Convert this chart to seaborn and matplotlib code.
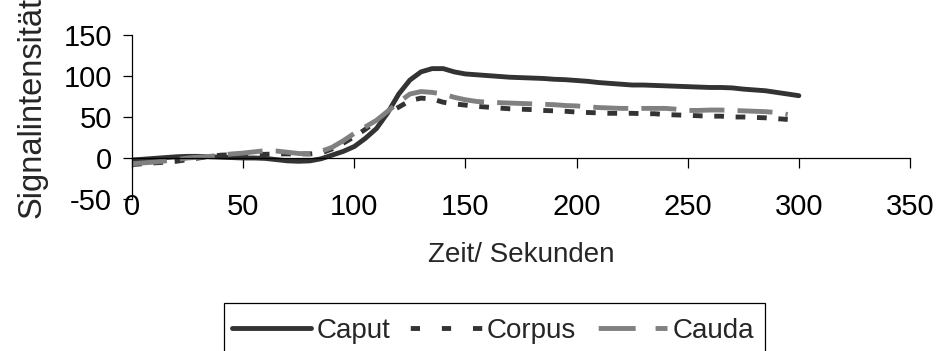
import numpy as np
import pandas as pd
import matplotlib
matplotlib.use("Agg")
import matplotlib.pyplot as plt
from matplotlib.lines import Line2D
from matplotlib.patches import Rectangle
import seaborn as sns

# Signal intensity over time for three regions
time_caput = list(range(0, 301, 5))
caput = [-2.5, -1.5, -0.5, 0.5, 1.5, 2, 2, 1.5, 1, 0.5, 0, 0, -0.5, -2, -3.5, -4, -3.5, -1,
         3.5, 8, 14, 24, 36, 55, 78, 95, 105, 109, 109, 105, 102.5, 101.5, 100.5,
         99.5, 98.5, 98, 97.5, 97, 96, 95.5, 94.5, 93.5, 92, 91, 90, 89, 89, 88.5,
         88, 87.5, 87, 86.5, 86, 86, 85.5, 84, 83, 82, 80, 78, 76]

time_corpus = list(range(0, 296, 5))
corpus = [-8, -7, -6, -5, -4, -2, 0, 2, 3.5, 4, 4, 4.5, 4.5, 5, 5, 5, 5, 6, 11,
          18, 26, 35, 45, 55, 62, 70, 73, 72, 68, 66, 64.5, 63, 62, 61, 60, 59.5,
          59, 58, 57.5, 57, 56, 55.5, 55, 54.5, 54.5, 54.5, 54, 54, 53, 52.5, 52,
          51.5, 51, 51, 50, 50, 49.5, 49, 48, 47]

time_cauda = list(range(0, 296, 5))
cauda = [-7, -6, -5, -3.5, -2, 0, 1, 2, 3.5, 5, 6, 7.5, 9, 8.5, 7, 5.5, 5, 8, 13,
         21, 30, 38, 46, 57, 68, 78, 81, 80, 78, 74, 71, 69, 68, 67.5, 67, 66.5,
         66, 65.5, 65, 64, 63.5, 62.5, 61.5, 61, 60.5, 60.5, 60.5, 60.5, 60.5,
         59.5, 58, 58, 58.5, 58.5, 58, 57.5, 57, 56.5, 55.5, 53]

series_names = ["Caput", "Corpus", "Cauda"]
x_ticks = [0, 50, 100, 150, 200, 250, 300, 350]
y_ticks = [-50, 0, 50, 100, 150]

df = pd.concat([
    pd.DataFrame({"t": time_caput, "v": caput, "Region": "Caput"}),
    pd.DataFrame({"t": time_corpus, "v": corpus, "Region": "Corpus"}),
    pd.DataFrame({"t": time_cauda, "v": cauda, "Region": "Cauda"}),
])

sns.set_style("white")
plt.rcParams["font.family"] = ["Liberation Sans", "DejaVu Sans"]
plt.rcParams["axes.unicode_minus"] = False
TICK_FS = 21
LEG_FS = 20

colors = {"Caput": "#333333", "Corpus": "#333333", "Cauda": "#808080"}
dashes = {"Caput": "", "Corpus": (2.0, 2.4), "Cauda": (7.2, 2.7)}
LW = 3.5

W, H = 940, 351
fig = plt.figure(figsize=(W / 100, H / 100), dpi=100)
ax = fig.add_axes([132 / W, 1 - 199 / H, (910 - 132) / W, (199 - 35) / H])

sns.lineplot(data=df, x="t", y="v", hue="Region", style="Region",
             palette=colors, dashes=dashes, linewidth=LW, ax=ax,
             legend=False, sort=False, estimator=None)

ax.set_xlim(0, 350)
ax.set_ylim(-50, 150)
ax.set_xticks(x_ticks)
ax.set_yticks(y_ticks)
ax.set_xlabel("")
ax.set_ylabel("")

for s in ["top", "right"]:
    ax.spines[s].set_visible(False)
ax.spines["bottom"].set_position(("data", 0))
for s in ["left", "bottom"]:
    ax.spines[s].set_color("black")
    ax.spines[s].set_linewidth(0.9)

ax.tick_params(axis="x", direction="out", length=7, width=0.9, colors="black",
               labelsize=TICK_FS, pad=18, bottom=True)
ax.tick_params(axis="y", direction="out", length=6.5, width=0.9, colors="black",
               labelsize=TICK_FS, pad=8, left=True)

fig.text((132 + 910) / 2 / W, 1 - 262 / H, "Zeit/ Sekunden", fontsize=20,
         ha="center", va="baseline")
fig.text(32 / W, 1 - 218 / H, "Signalintensität", fontsize=23.5,
         rotation=90, ha="center", va="bottom")

# legend box (runs past the lower figure edge)
fig.patches.append(Rectangle((224 / W, 1 - 362 / H), (765 - 224) / W, (362 - 303) / H,
                             transform=fig.transFigure, fill=False,
                             edgecolor="black", linewidth=0.9, zorder=1))

handles = [
    Line2D([], [], color=colors["Caput"], lw=LW, solid_capstyle="round"),
    Line2D([], [], color=colors["Corpus"], lw=LW, linestyle=(4.7, (1.9, 4.5))),
    Line2D([], [], color=colors["Cauda"], lw=LW, linestyle=(9.6, (7.6, 4.1))),
]
leg = fig.legend(handles, series_names, loc="center left",
                 bbox_to_anchor=(232 / W, 1 - 331 / H), ncol=3,
                 fontsize=LEG_FS, frameon=False,
                 handlelength=2.85, handletextpad=0.18, columnspacing=0.45,
                 borderpad=0, borderaxespad=0)

fig.savefig("out.png", dpi=100)
